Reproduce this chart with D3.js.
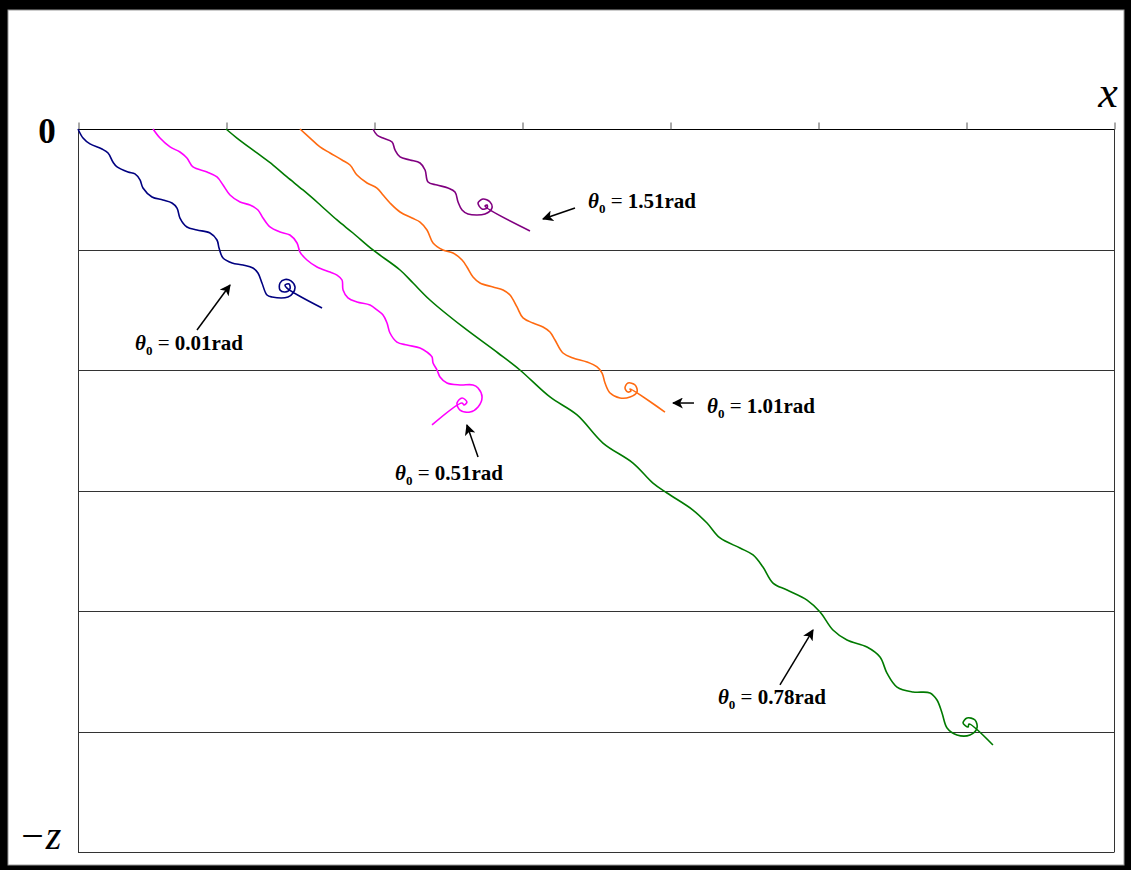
<!DOCTYPE html>
<html>
<head>
<meta charset="utf-8">
<script src="https://cdn.jsdelivr.net/npm/d3@7"></script>
<style>
  html, body { margin: 0; padding: 0; background: #fff; }
  svg { display: block; }
</style>
</head>
<body>
<div id="container"></div>
<script>
/* CONSTANTS AND GLOBALS */
const width = 1131,
  height = 870,
  margin = { top: 129, bottom: 18, left: 78, right: 17 };

// x ticks along the top edge, z grid levels (depth)
const xTicks = [0, 1, 2, 3, 4, 5, 6, 7];
const zLevels = [0, 1, 2, 3, 4, 5, 6];

// trajectories [x, z], one per release angle
const theta001 = [
  [0, 0], [0.034, 0.075], [0.081, 0.124], [0.162, 0.166], [0.203, 0.199],
  [0.236, 0.274], [0.264, 0.315], [0.338, 0.357], [0.385, 0.373], [0.419, 0.423],
  [0.439, 0.49], [0.5, 0.564], [0.574, 0.589], [0.635, 0.614], [0.669, 0.656],
  [0.689, 0.739], [0.736, 0.813], [0.804, 0.838], [0.892, 0.863], [0.939, 0.921],
  [0.953, 0.988], [0.98, 1.071], [1.041, 1.112], [1.115, 1.129], [1.182, 1.154],
  [1.216, 1.195], [1.243, 1.278], [1.277, 1.378], [1.311, 1.394], [1.419, 1.394],
  [1.453, 1.361], [1.466, 1.311], [1.439, 1.261], [1.399, 1.249], [1.365, 1.278],
  [1.365, 1.336], [1.399, 1.353], [1.432, 1.328], [1.426, 1.286], [1.399, 1.295],
  [1.412, 1.32], [1.649, 1.485]
];
const theta051 = [
  [0.507, 0], [0.554, 0.075], [0.622, 0.149], [0.689, 0.191], [0.736, 0.241],
  [0.777, 0.315], [0.872, 0.357], [0.939, 0.398], [0.98, 0.465], [1.027, 0.548],
  [1.095, 0.606], [1.162, 0.631], [1.216, 0.672], [1.25, 0.739], [1.297, 0.813],
  [1.365, 0.855], [1.432, 0.88], [1.48, 0.946], [1.5, 1.021], [1.547, 1.087],
  [1.615, 1.145], [1.703, 1.187], [1.75, 1.212], [1.784, 1.253], [1.791, 1.336],
  [1.824, 1.402], [1.885, 1.436], [1.973, 1.461], [2.02, 1.502], [2.061, 1.544],
  [2.088, 1.61], [2.108, 1.693], [2.155, 1.768], [2.223, 1.793], [2.311, 1.817],
  [2.358, 1.851], [2.392, 1.892], [2.399, 1.942], [2.426, 2.0], [2.446, 2.058],
  [2.493, 2.108], [2.581, 2.124], [2.669, 2.124], [2.703, 2.149], [2.73, 2.224],
  [2.703, 2.307], [2.649, 2.349], [2.581, 2.332], [2.561, 2.274], [2.595, 2.232],
  [2.628, 2.266], [2.608, 2.29], [2.595, 2.274], [2.392, 2.456]
];
const theta078 = [
  [1.0, 0], [1.074, 0.075], [1.209, 0.199], [1.318, 0.299], [1.412, 0.398],
  [1.52, 0.506], [1.622, 0.614], [1.75, 0.755], [1.858, 0.863], [1.993, 1.004],
  [2.176, 1.17], [2.264, 1.278], [2.378, 1.419], [2.601, 1.643], [2.838, 1.859],
  [2.986, 2.0], [3.189, 2.224], [3.372, 2.373], [3.547, 2.606], [3.75, 2.772],
  [3.885, 2.938], [3.98, 3.021], [4.155, 3.162], [4.25, 3.27], [4.338, 3.394],
  [4.473, 3.477], [4.561, 3.535], [4.628, 3.635], [4.696, 3.768], [4.791, 3.826],
  [4.926, 3.909], [5.014, 4.008], [5.101, 4.158], [5.196, 4.241], [5.331, 4.299],
  [5.419, 4.382], [5.466, 4.515], [5.534, 4.631], [5.642, 4.672], [5.757, 4.68],
  [5.804, 4.739], [5.838, 4.846], [5.872, 4.971], [5.939, 5.029], [6.027, 5.029],
  [6.074, 4.971], [6.061, 4.905], [6.007, 4.888], [5.98, 4.929], [6.014, 4.963],
  [6.02, 4.938], [6.182, 5.112]
];
const theta101 = [
  [1.5, 0], [1.568, 0.075], [1.635, 0.149], [1.703, 0.199], [1.784, 0.257],
  [1.838, 0.299], [1.885, 0.382], [1.953, 0.448], [2.02, 0.49], [2.061, 0.548],
  [2.108, 0.614], [2.176, 0.689], [2.257, 0.739], [2.311, 0.772], [2.358, 0.838],
  [2.399, 0.946], [2.466, 1.004], [2.534, 1.029], [2.595, 1.087], [2.628, 1.145],
  [2.669, 1.228], [2.716, 1.278], [2.804, 1.311], [2.872, 1.336], [2.919, 1.378],
  [2.966, 1.477], [3.007, 1.568], [3.074, 1.61], [3.142, 1.643], [3.189, 1.685],
  [3.223, 1.751], [3.277, 1.859], [3.345, 1.9], [3.439, 1.934], [3.507, 1.975],
  [3.541, 2.025], [3.561, 2.108], [3.595, 2.191], [3.662, 2.232], [3.73, 2.224],
  [3.777, 2.183], [3.764, 2.124], [3.716, 2.108], [3.696, 2.149], [3.716, 2.183],
  [3.736, 2.174], [3.73, 2.158], [3.966, 2.349]
];
const theta151 = [
  [1.993, 0], [2.02, 0.05], [2.061, 0.075], [2.122, 0.108], [2.142, 0.174],
  [2.176, 0.232], [2.243, 0.257], [2.311, 0.282], [2.345, 0.34], [2.365, 0.44],
  [2.426, 0.465], [2.5, 0.49], [2.547, 0.523], [2.568, 0.606], [2.595, 0.672],
  [2.635, 0.705], [2.75, 0.705], [2.797, 0.656], [2.784, 0.606], [2.736, 0.581],
  [2.703, 0.614], [2.73, 0.664], [2.764, 0.656], [2.764, 0.631], [2.75, 0.639],
  [3.054, 0.846]
];

const seriesNames = ["0.01", "0.51", "0.78", "1.01", "1.51"];
const seriesPoints = [theta001, theta051, theta078, theta101, theta151];
const seriesColors = ["#000080", "#ff00ff", "#007a00", "#ff6a10", "#800080"];

// annotation: label anchor, arrow tail, arrow tip (data units)
const labelAt = [[0.385, 1.834], [2.142, 2.913], [4.324, 4.772], [4.25, 2.357], [3.446, 0.656]];
const arrowFrom = [[0.804, 1.668], [2.703, 2.722], [4.743, 4.614], [4.162, 2.274], [3.358, 0.656]];
const arrowTo = [[1.027, 1.295], [2.628, 2.456], [4.966, 4.158], [4.02, 2.274], [3.142, 0.747]];

/* SCALES */
const xScale = d3.scaleLinear()
  .domain([0, 7])
  .range([margin.left, width - margin.right]);

const zScale = d3.scaleLinear()
  .domain([0, 6])
  .range([margin.top, height - margin.bottom]);

/* SVG */
const svg = d3.select("#container")
  .append("svg")
  .attr("width", width)
  .attr("height", height);

// black frame
svg.append("rect")
  .attr("width", width).attr("height", height)
  .attr("fill", "#000");
svg.append("rect")
  .attr("x", 8).attr("y", 10)
  .attr("width", width - 15).attr("height", height - 15)
  .attr("fill", "#fff")
  .attr("stroke", "#999")
  .attr("stroke-width", 1);

const x0 = xScale(0), x1 = xScale(7);

// horizontal grid levels
svg.selectAll("line.grid")
  .data(zLevels)
  .join("line")
  .attr("class", "grid")
  .attr("x1", x0).attr("x2", x1)
  .attr("y1", d => Math.round(zScale(d)) + 0.5)
  .attr("y2", d => Math.round(zScale(d)) + 0.5)
  .attr("stroke", d => d === 0 ? "#000" : "#333")
  .attr("stroke-width", 1);

// left and right edges
svg.selectAll("line.edge")
  .data([0, 7])
  .join("line")
  .attr("class", "edge")
  .attr("x1", d => Math.round(xScale(d)) + 0.5)
  .attr("x2", d => Math.round(xScale(d)) + 0.5)
  .attr("y1", zScale(0)).attr("y2", zScale(6) + 0.5)
  .attr("stroke", "#333");

// top axis ticks
svg.append("g")
  .attr("transform", `translate(0.5,${Math.round(zScale(0)) + 0.5})`)
  .call(d3.axisTop(xScale).tickValues(xTicks).tickSize(7).tickFormat(""))
  .call(g => g.select(".domain").remove())
  .call(g => g.selectAll(".tick line").attr("stroke", "#555"));

/* TRAJECTORIES */
const lineGen = d3.line()
  .x(d => xScale(d[0]))
  .y(d => zScale(d[1]))
  .curve(d3.curveCatmullRom.alpha(0.5));

svg.selectAll("path.traj")
  .data(seriesPoints)
  .join("path")
  .attr("class", "traj")
  .attr("d", d => lineGen(d))
  .attr("fill", "none")
  .attr("stroke", (d, i) => seriesColors[i])
  .attr("stroke-width", 1.6)
  .attr("stroke-linejoin", "round");

/* ARROWS */
svg.append("defs").append("marker")
  .attr("id", "head")
  .attr("viewBox", "0 0 10 10")
  .attr("refX", 9).attr("refY", 5)
  .attr("markerWidth", 11).attr("markerHeight", 11)
  .attr("markerUnits", "userSpaceOnUse")
  .attr("orient", "auto")
  .append("path")
  .attr("d", "M0,0 L10,5 L0,10 L2.5,5 Z")
  .attr("fill", "#000");

svg.selectAll("line.arrow")
  .data(arrowFrom)
  .join("line")
  .attr("class", "arrow")
  .attr("x1", d => xScale(d[0])).attr("y1", d => zScale(d[1]))
  .attr("x2", (d, i) => xScale(arrowTo[i][0]))
  .attr("y2", (d, i) => zScale(arrowTo[i][1]))
  .attr("stroke", "#000")
  .attr("stroke-width", 1.5)
  .attr("marker-end", "url(#head)");

/* LABELS */
const labels = svg.selectAll("text.theta")
  .data(seriesNames)
  .join("text")
  .attr("class", "theta")
  .attr("x", (d, i) => xScale(labelAt[i][0]))
  .attr("y", (d, i) => zScale(labelAt[i][1]))
  .attr("font-family", "'Liberation Serif', 'Times New Roman', serif")
  .attr("font-size", 21)
  .attr("font-weight", "bold");

labels.append("tspan").attr("font-style", "italic").text("θ");
labels.append("tspan").attr("font-size", 13).attr("dy", 5).text("0");
labels.append("tspan").attr("dy", -5).attr("font-weight", "normal").text(" = ");
labels.append("tspan").text(d => d + "rad");

/* AXIS LETTERS */
svg.append("text")
  .attr("x", 47).attr("y", zScale(0) + 14)
  .attr("text-anchor", "middle")
  .attr("font-family", "'Liberation Serif', serif")
  .attr("font-weight", "bold")
  .attr("font-size", 35)
  .text("0");

svg.append("text")
  .attr("x", xScale(7) - 6).attr("y", zScale(0) - 22)
  .attr("text-anchor", "middle")
  .attr("font-family", "'Liberation Serif', serif")
  .attr("font-style", "italic")
  .attr("font-size", 44)
  .text("x");

svg.append("text")
  .attr("x", 40).attr("y", zScale(6) - 3)
  .attr("text-anchor", "middle")
  .attr("font-family", "'Liberation Serif', serif")
  .attr("font-style", "italic")
  .attr("font-size", 40)
  .text("−z");
</script>
</body>
</html>
